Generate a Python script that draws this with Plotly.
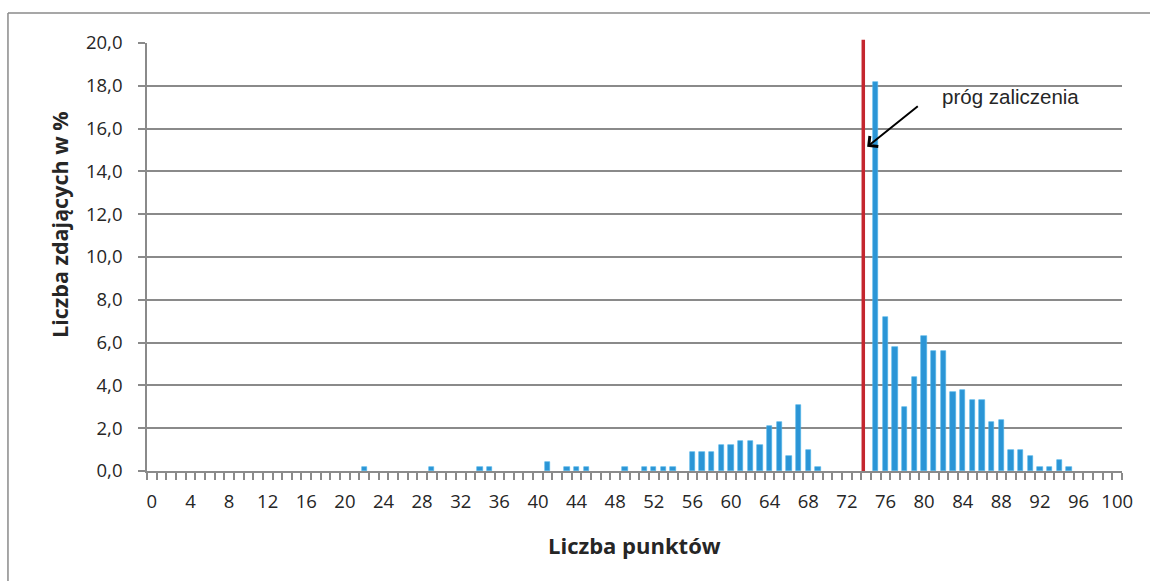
import plotly.graph_objects as go

# Liczba punktów -> liczba zdających w % (only non-zero scores)
punkty = [22, 29, 34, 35, 41, 43, 44, 45, 49, 51, 52, 53, 54,
          56, 57, 58, 59, 60, 61, 62, 63, 64, 65, 66, 67, 68, 69,
          75, 76, 77, 78, 79, 80, 81, 82, 83, 84, 85, 86, 87, 88,
          89, 90, 91, 92, 93, 94, 95]
procent = [0.2, 0.2, 0.2, 0.2, 0.4, 0.2, 0.2, 0.2, 0.2, 0.2, 0.2, 0.2, 0.2,
           0.9, 0.9, 0.9, 1.2, 1.2, 1.4, 1.4, 1.2, 2.1, 2.3, 0.7, 3.1, 1.0, 0.2,
           18.2, 7.2, 5.8, 3.0, 4.4, 6.3, 5.6, 5.6, 3.7, 3.8, 3.3, 3.3, 2.3, 2.4,
           1.0, 1.0, 0.7, 0.2, 0.2, 0.5, 0.2]
x_labels = list(range(0, 101, 4))
y_ticks = list(range(0, 21, 2))
prog = 73.7  # red threshold line

GRAY = "#8a8a8a"
TXT = "#262626"

fig = go.Figure()
fig.add_trace(go.Bar(x=punkty, y=procent, width=0.55,
                     marker=dict(color="#2b95d6", line=dict(color="#4ab2e8", width=0.6)),
                     showlegend=False))

fig.update_layout(
    width=1150, height=581,
    margin=dict(l=147, r=28, t=43, b=110),
    paper_bgcolor="white", plot_bgcolor="white",
    separators=", ",
    font=dict(family="Open Sans", size=18.5, color=TXT),
    bargap=0,
)
fig.update_xaxes(range=[-0.5, 100.5], tickmode="array", tickvals=x_labels,
                 ticks="", showgrid=False, zeroline=False,
                 showline=True, linecolor=GRAY, linewidth=1.6,
                 ticklabelstandoff=13,
                 minor=dict(ticks="outside", tick0=-0.5, dtick=1, ticklen=7,
                            tickcolor=GRAY, tickwidth=1.5, showgrid=False))
fig.update_yaxes(range=[0, 20], tickmode="array", tickvals=y_ticks, tickformat=".1f",
                 ticks="outside", ticklen=7, tickcolor=GRAY, tickwidth=1.5,
                 showline=True, linecolor=GRAY, linewidth=1.6,
                 showgrid=True, gridcolor=GRAY, gridwidth=1.6, zeroline=False,
                 ticklabelstandoff=12)

# outer frame (left and top edges only are visible)
fig.add_shape(type="line", xref="paper", yref="paper",
              x0=-0.1426, x1=-0.1426, y0=-0.3, y1=1.0701,
              line=dict(color=GRAY, width=1.5), layer="below")
fig.add_shape(type="line", xref="paper", yref="paper",
              x0=-0.1426, x1=1.06, y0=1.0701, y1=1.0701,
              line=dict(color=GRAY, width=1.5), layer="below")
# threshold line
fig.add_shape(type="line", xref="x", yref="paper", x0=prog, x1=prog, y0=0, y1=1.0075,
              line=dict(color="#c4262e", width=3.5))

fig.add_annotation(x=74.1, y=15.15, ax=79.5, ay=17.1, axref="x", ayref="y",
                   text="", showarrow=True, arrowhead=4, arrowsize=1.3,
                   arrowwidth=2, arrowcolor="black", standoff=0)
fig.add_annotation(x=88.9, y=17.5, text="próg zaliczenia", showarrow=False,
                   xanchor="center", yanchor="middle",
                   font=dict(family="Liberation Sans", size=20.5, color=TXT))

fig.add_annotation(xref="paper", yref="paper", x=-0.0892, y=0.575,
                   text="<b>Liczba zdających w %</b>", textangle=-90, showarrow=False,
                   xanchor="center", yanchor="middle", font=dict(size=21.5, color=TXT))
fig.add_annotation(xref="paper", yref="paper", x=0.5, y=-0.173,
                   text="<b>Liczba punktów</b>", showarrow=False,
                   xanchor="center", yanchor="middle", font=dict(size=22, color=TXT))

# no page margin / scrollbars / modebar, so the figure fills the window exactly
fig.write_html("out.html", config={"displayModeBar": False},
               post_script="document.body.style.margin='0';"
                           "document.documentElement.style.overflow='hidden';")
